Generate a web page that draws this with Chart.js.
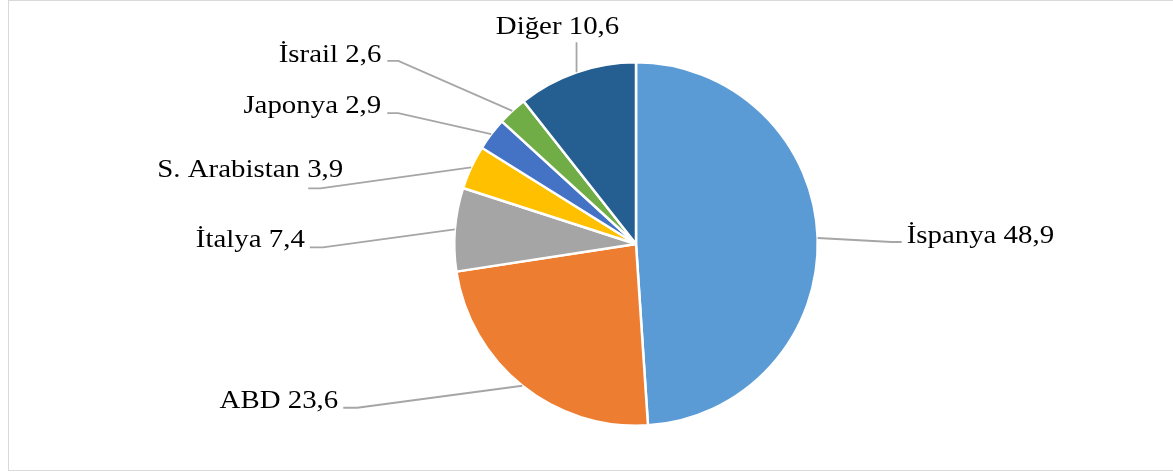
<!DOCTYPE html>
<html>
<head>
<meta charset="utf-8">
<script src="https://cdn.jsdelivr.net/npm/chart.js@4"></script>
<style>
  body { margin: 0; background: #fff; }
</style>
</head>
<body>
<canvas id="myChart" width="1173" height="472"></canvas>
<script>
// data (percent shares)
const countries = ['İspanya', 'ABD', 'İtalya', 'S. Arabistan', 'Japonya', 'İsrail', 'Diğer'];
const shares = [48.9, 23.6, 7.4, 3.9, 2.9, 2.6, 10.6];
const sliceColors = ['#5B9BD5', '#ED7D31', '#A5A5A5', '#FFC000', '#4472C4', '#70AD47', '#255E91'];

// where each label sits, relative to the point on the rim at mid-slice
// d = leader line end, t = text anchor relative to the line end
const labelLayout = [
    { dx: 84, dy: 4, tx: 5, ty: 1, align: 'left', elbow: -10 },
    { dx: -179, dy: 22, tx: -5, ty: 0, align: 'right', elbow: 14 },
    { dx: -145, dy: 18, tx: -5, ty: 0, align: 'right', elbow: 13 },
    { dx: -163, dy: 21, tx: 35, ty: -11, align: 'right', elbow: 12 },
    { dx: -104, dy: -21, tx: -6, ty: 0, align: 'right', elbow: 11 },
    { dx: -125, dy: -50, tx: -6, ty: 1, align: 'right', elbow: 11 },
    { dx: 0, dy: -30, tx: -19, ty: -8, align: 'center', elbow: 0 }
];

const outsideLabels = {
    id: 'outsideLabels',
    beforeDraw(chart) {
        const ctx = chart.ctx;
        ctx.save();
        ctx.strokeStyle = '#D9D9D9';
        ctx.lineWidth = 1;
        ctx.strokeRect(8.5, 0.5, 1200, 470);
        ctx.restore();
    },
    afterDraw(chart) {
        const ctx = chart.ctx;
        const arcs = chart.getDatasetMeta(0).data;
        arcs.forEach((arc, i) => {
            const mid = (arc.startAngle + arc.endAngle) / 2;
            const ax = arc.x + Math.cos(mid) * arc.outerRadius;
            const ay = arc.y + Math.sin(mid) * arc.outerRadius;
            const L = labelLayout[i];
            const ex = ax + L.dx, ey = ay + L.dy;

            ctx.save();
            ctx.strokeStyle = '#A6A6A6';
            ctx.lineWidth = 1.8;
            ctx.beginPath();
            ctx.moveTo(ax, ay);
            if (L.elbow) ctx.lineTo(ex + L.elbow, ey);
            ctx.lineTo(ex, ey);
            ctx.stroke();

            // text is a bit wide in the original, so stretch it horizontally
            const txt = countries[i] + ' ' + shares[i].toFixed(1).replace('.', ',');
            ctx.translate(ex + L.tx, ey + L.ty);
            ctx.scale(1.11, 1);
            ctx.font = '26px "Liberation Serif", "Times New Roman", serif';
            ctx.fillStyle = '#000000';
            ctx.textAlign = L.align;
            ctx.textBaseline = 'alphabetic';
            ctx.fillText(txt, 0, 0);
            ctx.restore();
        });
    }
};

new Chart(document.getElementById('myChart').getContext('2d'), {
    type: 'pie',
    data: {
        labels: countries,
        datasets: [{
            data: shares,
            backgroundColor: sliceColors,
            borderColor: '#ffffff',
            borderWidth: 2.5
        }]
    },
    options: {
        responsive: false,
        animation: false,
        layout: {
            padding: { left: 453, right: 354, top: 61, bottom: 45 }
        },
        plugins: {
            legend: { display: false },
            tooltip: { enabled: false }
        }
    },
    plugins: [outsideLabels]
});
</script>
</body>
</html>
